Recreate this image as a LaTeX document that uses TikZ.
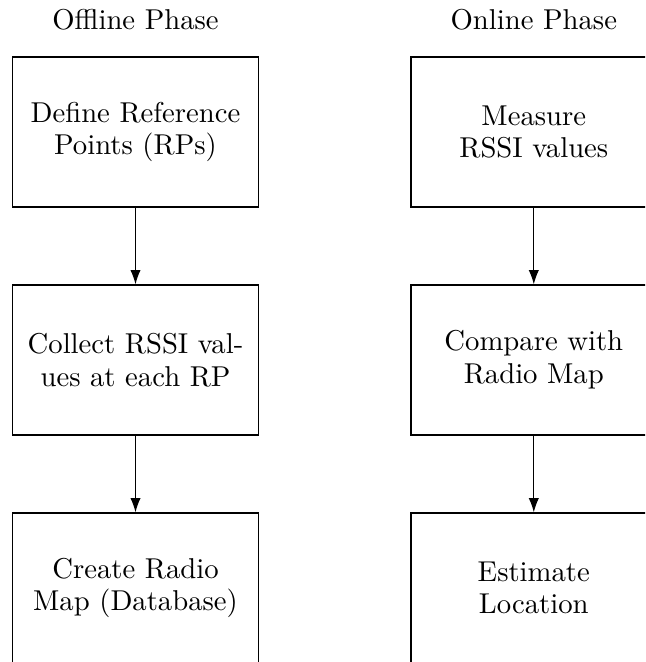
\documentclass[tikz,border=0pt]{standalone}
\usetikzlibrary{arrows.meta}
\begin{document}
\begin{tikzpicture}[x=0.3484pt, y=-0.3484pt,
  stepbox/.style={draw, line width=0.4pt, minimum width=85.6pt, minimum height=52.3pt,
    inner sep=0pt, align=center, font=\fontsize{10}{11.4}\selectfont},
  phase/.style={anchor=base, inner sep=0pt, font=\fontsize{10}{11.4}\selectfont},
  flow/.style={-{Latex[length=5pt,width=3.6pt]}, line width=0.4pt}]
  \path[use as bounding box, clip] (0,0) rectangle (645,662);

  % column headings
  \node[phase] (offh) at (135.5,29.3) {Offline Phase};
  \node[phase] (onh)  at (533.8,29.3) {Online Phase};

  % offline column
  \node[stepbox] (o1) at (135.5,132) {Define Reference\\Points (RPs)};
  \node[stepbox] (o2) at (135.5,360) {Collect RSSI val-\\ues at each RP};
  \node[stepbox] (o3) at (135.5,588) {Create Radio\\Map (Database)};

  % online column
  \node[stepbox] (n1) at (533.8,132) {Measure\\RSSI values};
  \node[stepbox] (n2) at (533.8,360) {Compare with\\Radio Map};
  \node[stepbox] (n3) at (533.8,588) {Estimate\\Location};

  \draw[flow] (o1) -- (o2);
  \draw[flow] (o2) -- (o3);
  \draw[flow] (n1) -- (n2);
  \draw[flow] (n2) -- (n3);
\end{tikzpicture}
\end{document}
